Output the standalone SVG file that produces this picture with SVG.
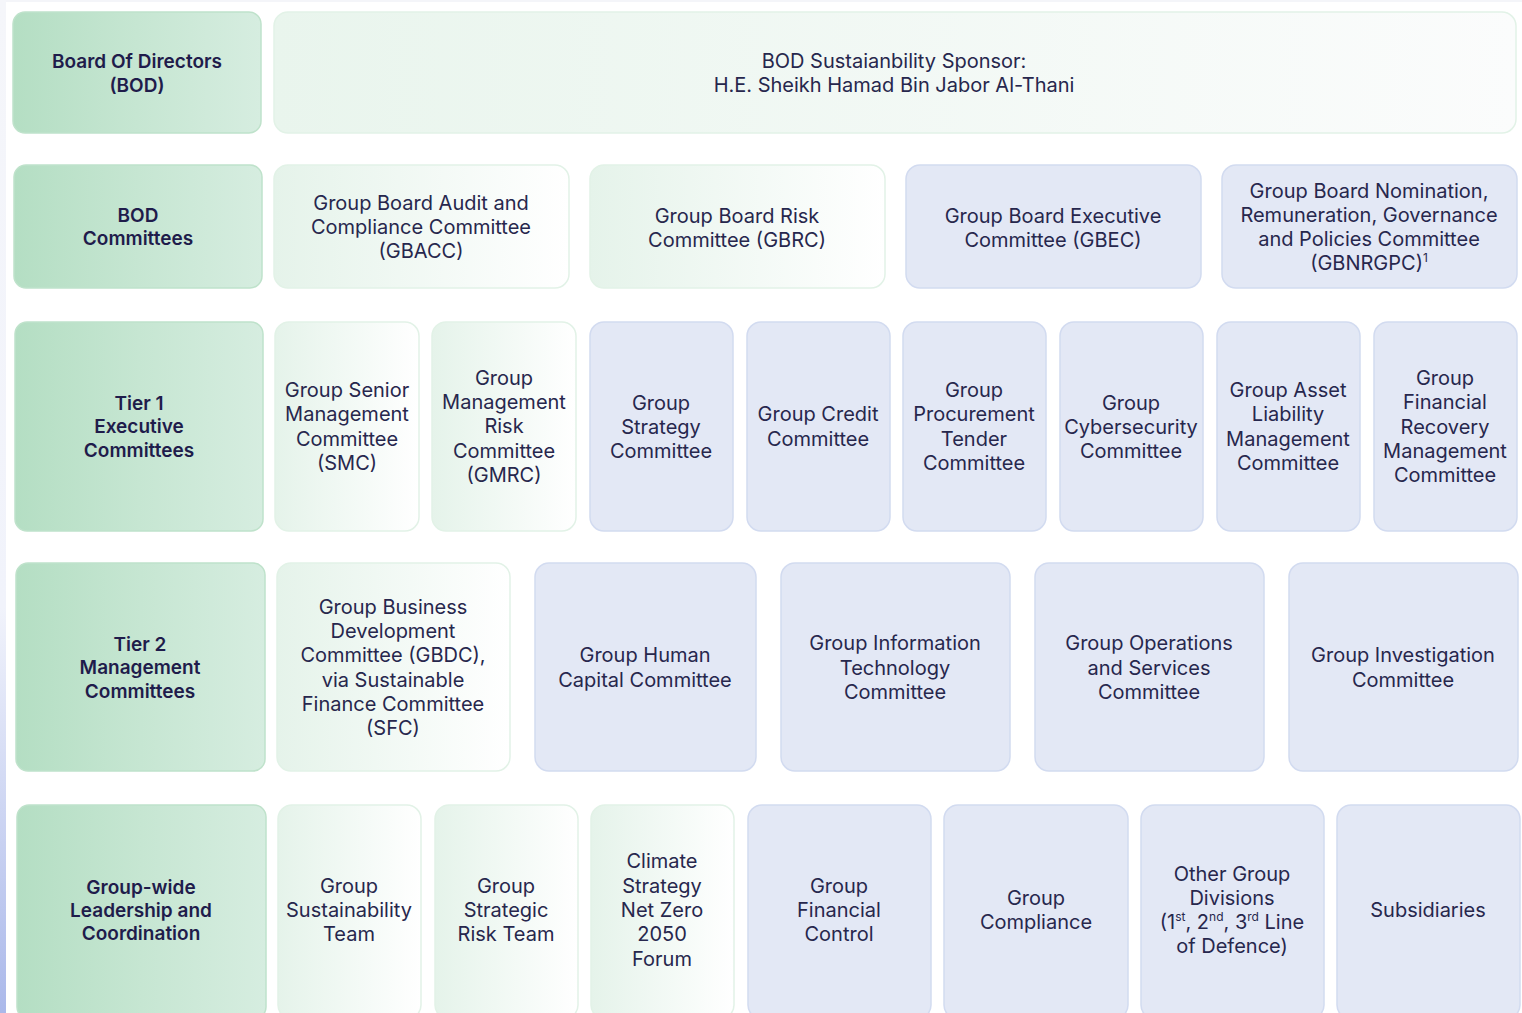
<svg xmlns="http://www.w3.org/2000/svg" width="1522" height="1013" viewBox="0 0 1522 1013">
  <defs>
    <linearGradient id="gLabel" x1="0" y1="0" x2="1" y2="0">
      <stop offset="0" stop-color="#b4dec3"/>
      <stop offset="0.5" stop-color="#c6e6d2"/>
      <stop offset="1" stop-color="#d6ede0"/>
    </linearGradient>
    <linearGradient id="gGreen" x1="0" y1="0" x2="1" y2="0">
      <stop offset="0" stop-color="#e5f3ea"/>
      <stop offset="1" stop-color="#ffffff"/>
    </linearGradient>
    <linearGradient id="gSponsor" x1="0" y1="0" x2="1" y2="0">
      <stop offset="0" stop-color="#e9f5ed"/>
      <stop offset="1" stop-color="#fbfcfc"/>
    </linearGradient>
    <linearGradient id="gEdge" x1="0" y1="0" x2="0" y2="1">
      <stop offset="0" stop-color="#f5f6fa"/>
      <stop offset="0.6" stop-color="#f1f3fb"/>
      <stop offset="1" stop-color="#aab8ea"/>
    </linearGradient>
  </defs>
  <style>
    .label rect { fill: url(#gLabel); stroke: #bfe2cb; stroke-width: 1.5; }
    .green rect { fill: url(#gGreen); stroke: #e2f2e7; stroke-width: 1.5; }
    .sponsor rect { fill: url(#gSponsor); stroke: #e2f2e7; stroke-width: 1.5; }
    .blue rect { fill: #e3e8f5; stroke: #d2dbf0; stroke-width: 1.5; }
    text { font-family: Inter, "Noto Sans", "Liberation Sans", sans-serif; font-size: 20px; fill: #27274d; text-anchor: middle; }
    .label text { font-weight: 600; font-size: 19px; fill: #1f1c4b; }
    .sup { font-size: 12px; }
  </style>

  <rect width="1522" height="1013" fill="#ffffff"/>
  <rect x="0" y="0" width="1522" height="2" fill="#f4f5f9"/>
  <rect x="0" y="0" width="6" height="1013" fill="url(#gEdge)"/>

  <!-- Row 1: Board of Directors -->
  <g id="row1-label" class="label">
    <rect x="13" y="12" width="248" height="121" rx="12"/>
    <text x="137" y="68">Board Of Directors</text>
    <text x="137" y="92">(BOD)</text>
  </g>
  <g id="bod-sponsor" class="sponsor">
    <rect x="274" y="12" width="1242" height="121" rx="14"/>
    <text x="894" y="68">BOD Sustaianbility Sponsor:</text>
    <text x="894" y="92">H.E. Sheikh Hamad Bin Jabor Al-Thani</text>
  </g>

  <!-- Row 2: BOD Committees -->
  <g id="row2-label" class="label">
    <rect x="14" y="165" width="248" height="123" rx="12"/>
    <text x="138" y="222">BOD</text>
    <text x="138" y="245">Committees</text>
  </g>
  <g id="gbacc" class="green">
    <rect x="274" y="165" width="295" height="123" rx="14"/>
    <text x="421" y="210">Group Board Audit and</text>
    <text x="421" y="234">Compliance Committee</text>
    <text x="421" y="258">(GBACC)</text>
  </g>
  <g id="gbrc" class="green">
    <rect x="590" y="165" width="295" height="123" rx="14"/>
    <text x="737" y="223">Group Board Risk</text>
    <text x="737" y="247">Committee (GBRC)</text>
  </g>
  <g id="gbec" class="blue">
    <rect x="906" y="165" width="295" height="123" rx="14"/>
    <text x="1053" y="223">Group Board Executive</text>
    <text x="1053" y="247">Committee (GBEC)</text>
  </g>
  <g id="gbnrgpc" class="blue">
    <rect x="1222" y="165" width="295" height="123" rx="14"/>
    <text x="1369" y="198">Group Board Nomination,</text>
    <text x="1369" y="222">Remuneration, Governance</text>
    <text x="1369" y="246">and Policies Committee</text>
    <text x="1369" y="270">(GBNRGPC)<tspan class="sup" dy="-8">1</tspan></text>
  </g>

  <!-- Row 3: Tier 1 Executive Committees -->
  <g id="row3-label" class="label">
    <rect x="15" y="322" width="248" height="209" rx="12"/>
    <text x="139" y="410">Tier 1</text>
    <text x="139" y="433">Executive</text>
    <text x="139" y="457">Committees</text>
  </g>
  <g id="smc" class="green">
    <rect x="275" y="322" width="144" height="209" rx="14"/>
    <text x="347" y="397">Group Senior</text>
    <text x="347" y="421">Management</text>
    <text x="347" y="446">Committee</text>
    <text x="347" y="470">(SMC)</text>
  </g>
  <g id="gmrc" class="green">
    <rect x="432" y="322" width="144" height="209" rx="14"/>
    <text x="504" y="385">Group</text>
    <text x="504" y="409">Management</text>
    <text x="504" y="433">Risk</text>
    <text x="504" y="458">Committee</text>
    <text x="504" y="482">(GMRC)</text>
  </g>
  <g id="strategy" class="blue">
    <rect x="590" y="322" width="143" height="209" rx="14"/>
    <text x="661" y="410">Group</text>
    <text x="661" y="434">Strategy</text>
    <text x="661" y="458">Committee</text>
  </g>
  <g id="credit" class="blue">
    <rect x="747" y="322" width="143" height="209" rx="14"/>
    <text x="818" y="421">Group Credit</text>
    <text x="818" y="446">Committee</text>
  </g>
  <g id="procurement" class="blue">
    <rect x="903" y="322" width="143" height="209" rx="14"/>
    <text x="974" y="397">Group</text>
    <text x="974" y="421">Procurement</text>
    <text x="974" y="446">Tender</text>
    <text x="974" y="470">Committee</text>
  </g>
  <g id="cyber" class="blue">
    <rect x="1060" y="322" width="143" height="209" rx="14"/>
    <text x="1131" y="410">Group</text>
    <text x="1131" y="434">Cybersecurity</text>
    <text x="1131" y="458">Committee</text>
  </g>
  <g id="alm" class="blue">
    <rect x="1217" y="322" width="143" height="209" rx="14"/>
    <text x="1288" y="397">Group Asset</text>
    <text x="1288" y="421">Liability</text>
    <text x="1288" y="446">Management</text>
    <text x="1288" y="470">Committee</text>
  </g>
  <g id="frm" class="blue">
    <rect x="1374" y="322" width="143" height="209" rx="14"/>
    <text x="1445" y="385">Group</text>
    <text x="1445" y="409">Financial</text>
    <text x="1445" y="434">Recovery</text>
    <text x="1445" y="458">Management</text>
    <text x="1445" y="482">Committee</text>
  </g>

  <!-- Row 4: Tier 2 Management Committees -->
  <g id="row4-label" class="label">
    <rect x="16" y="563" width="249" height="208" rx="12"/>
    <text x="140" y="651">Tier 2</text>
    <text x="140" y="674">Management</text>
    <text x="140" y="698">Committees</text>
  </g>
  <g id="gbdc" class="green">
    <rect x="277" y="563" width="233" height="208" rx="14"/>
    <text x="393" y="614">Group Business</text>
    <text x="393" y="638">Development</text>
    <text x="393" y="662">Committee (GBDC),</text>
    <text x="393" y="687">via Sustainable</text>
    <text x="393" y="711">Finance Committee</text>
    <text x="393" y="735">(SFC)</text>
  </g>
  <g id="human-capital" class="blue">
    <rect x="535" y="563" width="221" height="208" rx="14"/>
    <text x="645" y="662">Group Human</text>
    <text x="645" y="687">Capital Committee</text>
  </g>
  <g id="it" class="blue">
    <rect x="781" y="563" width="229" height="208" rx="14"/>
    <text x="895" y="650">Group Information</text>
    <text x="895" y="675">Technology</text>
    <text x="895" y="699">Committee</text>
  </g>
  <g id="operations" class="blue">
    <rect x="1035" y="563" width="229" height="208" rx="14"/>
    <text x="1149" y="650">Group Operations</text>
    <text x="1149" y="675">and Services</text>
    <text x="1149" y="699">Committee</text>
  </g>
  <g id="investigation" class="blue">
    <rect x="1289" y="563" width="229" height="208" rx="14"/>
    <text x="1403" y="662">Group Investigation</text>
    <text x="1403" y="687">Committee</text>
  </g>

  <!-- Row 5: Group-wide Leadership and Coordination -->
  <g id="row5-label" class="label">
    <rect x="17" y="805" width="249" height="214" rx="12"/>
    <text x="141" y="894">Group-wide</text>
    <text x="141" y="917">Leadership and</text>
    <text x="141" y="940">Coordination</text>
  </g>
  <g id="sustainability-team" class="green">
    <rect x="278" y="805" width="143" height="214" rx="14"/>
    <text x="349" y="893">Group</text>
    <text x="349" y="917">Sustainability</text>
    <text x="349" y="941">Team</text>
  </g>
  <g id="strategic-risk-team" class="green">
    <rect x="435" y="805" width="143" height="214" rx="14"/>
    <text x="506" y="893">Group</text>
    <text x="506" y="917">Strategic</text>
    <text x="506" y="941">Risk Team</text>
  </g>
  <g id="climate-forum" class="green">
    <rect x="591" y="805" width="143" height="214" rx="14"/>
    <text x="662" y="868">Climate</text>
    <text x="662" y="893">Strategy</text>
    <text x="662" y="917">Net Zero</text>
    <text x="662" y="941">2050</text>
    <text x="662" y="966">Forum</text>
  </g>
  <g id="financial-control" class="blue">
    <rect x="748" y="805" width="183" height="214" rx="14"/>
    <text x="839" y="893">Group</text>
    <text x="839" y="917">Financial</text>
    <text x="839" y="941">Control</text>
  </g>
  <g id="compliance" class="blue">
    <rect x="944" y="805" width="184" height="214" rx="14"/>
    <text x="1036" y="905">Group</text>
    <text x="1036" y="929">Compliance</text>
  </g>
  <g id="other-divisions" class="blue">
    <rect x="1141" y="805" width="183" height="214" rx="14"/>
    <text x="1232" y="881">Other Group</text>
    <text x="1232" y="905">Divisions</text>
    <text x="1232" y="929">(1<tspan class="sup" dy="-8">st</tspan><tspan dy="8">, 2</tspan><tspan class="sup" dy="-8">nd</tspan><tspan dy="8">, 3</tspan><tspan class="sup" dy="-8">rd</tspan><tspan dy="8"> Line</tspan></text>
    <text x="1232" y="953">of Defence)</text>
  </g>
  <g id="subsidiaries" class="blue">
    <rect x="1337" y="805" width="183" height="214" rx="14"/>
    <text x="1428" y="917">Subsidiaries</text>
  </g>

  <!-- No connectors are drawn between the tiers -->
  <g id="connectors"/>
</svg>
